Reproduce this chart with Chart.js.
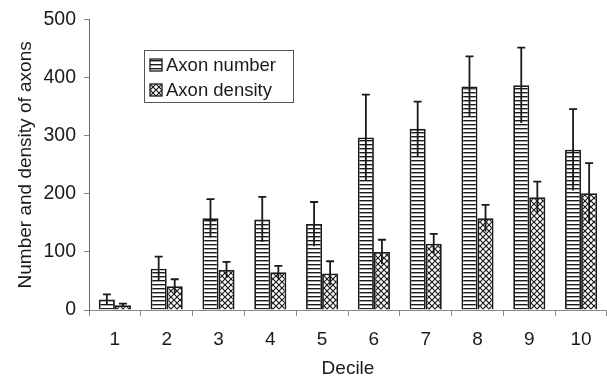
<!DOCTYPE html>
<html lang="en">
<head>
  <meta charset="UTF-8">
  <title>Axon number and density by decile</title>
  <style>
    body { margin: 0; background: #fff; overflow: hidden; }
    #wrap { position: relative; width: 607px; height: 385px; }
  </style>
</head>
<body>
  <div id="wrap"><canvas id="axonChart" width="607" height="385"></canvas></div>

  <script src="https://cdn.jsdelivr.net/npm/chart.js"></script>
  <script>
    const deciles = ['1', '2', '3', '4', '5', '6', '7', '8', '9', '10'];
    const axonNumber = [18, 71, 158, 156, 148, 297, 312, 385, 387, 276];
    const axonNumberErr = [9, 21, 33, 39, 38, 74, 47, 52, 65, 70];
    const axonDensity = [8, 41, 69, 65, 63, 100, 114, 158, 194, 201];
    const axonDensityErr = [3, 12, 14, 11, 21, 21, 17, 23, 27, 52];
    const yTicks = [0, 100, 200, 300, 400, 500];

    const ink = '#1a1a1a';
    const font = 'Arial, "Liberation Sans", sans-serif';

    // fill patterns like the print version
    function stripes() {
      const c = document.createElement('canvas');
      c.width = 4; c.height = 4;
      const g = c.getContext('2d');
      g.fillStyle = '#fff';
      g.fillRect(0, 0, 4, 4);
      g.fillStyle = ink;
      g.fillRect(0, 0, 4, 1.4);
      return g.createPattern(c, 'repeat');
    }

    function crosshatch() {
      const c = document.createElement('canvas');
      c.width = 6; c.height = 6;
      const g = c.getContext('2d');
      g.fillStyle = '#fff';
      g.fillRect(0, 0, 6, 6);
      g.strokeStyle = ink;
      g.lineWidth = 1.2;
      g.beginPath();
      g.moveTo(0, 0); g.lineTo(6, 6);
      g.moveTo(6, 0); g.lineTo(0, 6);
      g.stroke();
      return g.createPattern(c, 'repeat');
    }

    const ctx = document.getElementById('axonChart').getContext('2d');
    const stripeFill = stripes();
    const hatchFill = crosshatch();

    // error bars: line through value +/- err, cap on top only
    const errorBars = {
      id: 'errorBars',
      afterDatasetsDraw(chart) {
        const y = chart.scales.y;
        const g = chart.ctx;
        const errs = [axonNumberErr, axonDensityErr];
        g.save();
        g.strokeStyle = ink;
        g.lineWidth = 1.8;
        chart.data.datasets.forEach((ds, i) => {
          const meta = chart.getDatasetMeta(i);
          meta.data.forEach((bar, j) => {
            const v = ds.data[j];
            const e = errs[i][j];
            const top = y.getPixelForValue(v + e);
            const bot = y.getPixelForValue(Math.max(0, v - e));
            g.beginPath();
            g.moveTo(bar.x, bot);
            g.lineTo(bar.x, top);
            g.moveTo(bar.x - 4, top);
            g.lineTo(bar.x + 4, top);
            g.stroke();
          });
        });
        g.restore();
      }
    };

    // boxed legend sitting inside the plot
    const boxLegend = {
      id: 'boxLegend',
      afterDraw(chart) {
        const g = chart.ctx;
        const x0 = 144, y0 = 50, w = 149, h = 52;
        g.save();
        g.fillStyle = '#fff';
        g.fillRect(x0, y0, w, h);
        g.strokeStyle = '#555';
        g.lineWidth = 1;
        g.strokeRect(x0 + 0.5, y0 + 0.5, w, h);
        const items = [
          { text: 'Axon number', fill: stripeFill },
          { text: 'Axon density', fill: hatchFill }
        ];
        g.font = '18.5px ' + font;
        g.textBaseline = 'middle';
        items.forEach((it, k) => {
          const cy = y0 + 15 + k * 25;
          g.fillStyle = it.fill;
          g.fillRect(x0 + 6, cy - 6, 12, 12);
          g.strokeStyle = ink;
          g.lineWidth = 1.3;
          g.strokeRect(x0 + 6, cy - 6, 12, 12);
          g.fillStyle = ink;
          g.fillText(it.text, x0 + 22, cy + 1);
        });
        g.restore();
      }
    };

    new Chart(ctx, {
      type: 'bar',
      data: {
        labels: deciles,
        datasets: [
          {
            label: 'Axon number',
            data: axonNumber,
            backgroundColor: stripeFill,
            borderColor: ink,
            borderWidth: 1.8
          },
          {
            label: 'Axon density',
            data: axonDensity,
            backgroundColor: hatchFill,
            borderColor: ink,
            borderWidth: 1.8
          }
        ]
      },
      options: {
        responsive: false,
        animation: false,
        layout: { padding: { top: 15, right: 0, left: 0, bottom: 0 } },
        datasets: {
          bar: { categoryPercentage: 0.62, barPercentage: 1 }
        },
        plugins: {
          legend: { display: false },
          tooltip: { enabled: false }
        },
        scales: {
          x: {
            offset: true,
            grid: {
              offset: true,
              drawOnChartArea: false,
              drawTicks: true,
              tickLength: 6,
              color: '#888'
            },
            border: { color: '#888', width: 1 },
            ticks: {
              color: ink,
              font: { family: font, size: 19 },
              padding: 12,
              maxRotation: 0
            },
            title: {
              display: true,
              text: 'Decile',
              color: ink,
              font: { family: font, size: 19 },
              padding: { top: 0, bottom: 5 }
            },
            afterFit(s) { s.height = 75; }
          },
          y: {
            min: 0,
            max: 500,
            afterBuildTicks(s) { s.ticks = yTicks.map(v => ({ value: v })); },
            grid: {
              drawOnChartArea: false,
              drawTicks: true,
              tickLength: 5,
              color: '#888'
            },
            border: { color: '#666', width: 1 },
            ticks: {
              color: ink,
              font: { family: font, size: 19.5 },
              padding: 8
            },
            title: {
              display: true,
              text: 'Number and density of axons',
              color: ink,
              font: { family: font, size: 19 },
              padding: { top: 14, bottom: 0 }
            },
            afterFit(s) { s.width = 89; }
          }
        }
      },
      plugins: [errorBars, boxLegend]
    });
  </script>
</body>
</html>
